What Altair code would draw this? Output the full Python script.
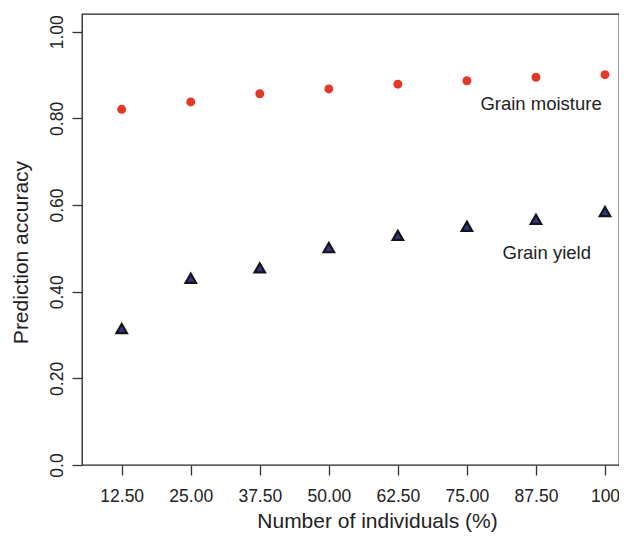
import altair as alt
import pandas as pd

# Data
pct = [12.5, 25.0, 37.5, 50.0, 62.5, 75.0, 87.5, 100.0]
grain_moisture = [0.821, 0.838, 0.857, 0.868, 0.879, 0.887, 0.895, 0.901]
grain_yield = [0.315, 0.431, 0.455, 0.502, 0.530, 0.551, 0.567, 0.585]

y_ticks = [0.0, 0.2, 0.4, 0.6, 0.8, 1.0]
ann_labels = ["Grain moisture", "Grain yield"]
ann_x = [88.42, 89.45]
ann_y = [0.819, 0.4754]

FONT = "Liberation Sans"

moist = pd.DataFrame({"pct": pct, "acc": grain_moisture})
yld = pd.DataFrame({"pct": pct, "acc": grain_yield})
ann = pd.DataFrame({"label": ann_labels, "x": ann_x, "y": ann_y})

xscale = alt.Scale(domain=[5.312, 102.535], nice=False, zero=False)
yscale = alt.Scale(domain=[0, 1.041], nice=False, zero=False)

xaxis = alt.Axis(
    values=pct,
    labelExpr="datum.value == 100 ? '100' : format(datum.value, '.2f')",
    title="Number of individuals (%)",
    grid=False, domain=False,
    tickSize=10, tickColor="#333333", tickWidth=1.3,
    labelFont=FONT, labelFontSize=17.5, labelColor="#222222", labelPadding=12,
    labelBaseline="top",
    titleFont=FONT, titleFontSize=21, titleFontWeight="normal", titleColor="#222222",
    titleX=295, titleY=62, titleBaseline="alphabetic", titleAlign="center",
)
yaxis = alt.Axis(
    values=y_ticks,
    labelExpr="datum.value == 0 ? '0.0' : format(datum.value, '.2f')",
    title="Prediction accuracy",
    grid=False, domain=False,
    tickSize=10, tickColor="#333333", tickWidth=1.3,
    labelFont=FONT, labelFontSize=17.5, labelColor="#222222", labelPadding=10,
    labelAngle=270, labelAlign="center", labelBaseline="alphabetic",
    titleFont=FONT, titleFontSize=21, titleFontWeight="normal", titleColor="#222222",
    titleAngle=270, titleAlign="center", titleBaseline="alphabetic",
    titleX=-55, titleY=238,
)

pts_m = alt.Chart(moist).mark_point(
    shape="circle", filled=True, size=80, color="#e2382a", opacity=1
).encode(
    x=alt.X("pct:Q", scale=xscale, axis=xaxis),
    y=alt.Y("acc:Q", scale=yscale, axis=yaxis),
)

pts_y = alt.Chart(yld).mark_point(
    shape="triangle-up", filled=True, size=110, fill="#34348c",
    stroke="#151515", strokeWidth=2.2, opacity=1, fillOpacity=1, strokeOpacity=1
).encode(
    x=alt.X("pct:Q", scale=xscale),
    y=alt.Y("acc:Q", scale=yscale),
)

txt = alt.Chart(ann).mark_text(
    font=FONT, fontSize=18.5, color="#222222", align="center", baseline="alphabetic"
).encode(
    x=alt.X("x:Q", scale=xscale),
    y=alt.Y("y:Q", scale=yscale),
    text="label:N",
)

chart = alt.layer(pts_m, pts_y, txt).properties(
    width=537, height=451,
    autosize=alt.AutoSizeParams(type="none"),
    padding={"left": 74, "top": 6, "right": 0, "bottom": 67},
    background="white",
).configure_view(
    stroke="#222222", strokeWidth=1.3
)

chart.save("out.html", embed_options={"renderer": "svg", "actions": False})
